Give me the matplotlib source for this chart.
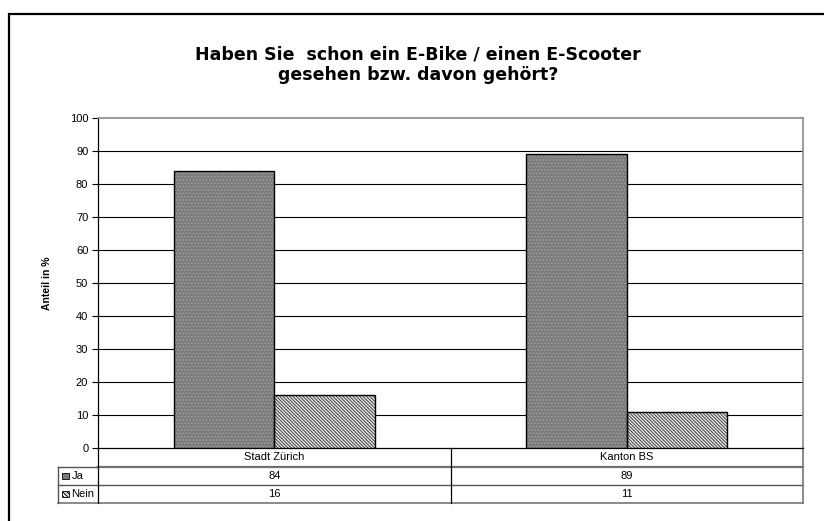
import matplotlib
matplotlib.use("Agg")
import matplotlib.pyplot as plt
from matplotlib.patches import Rectangle

# Survey: seen / heard of e-bike or e-scooter
categories = ["Stadt Zürich", "Kanton BS"]
series_names = ["Ja", "Nein"]
ja_values = [84, 89]
nein_values = [16, 11]
y_ticks = [0, 10, 20, 30, 40, 50, 60, 70, 80, 90, 100]

plt.rcParams['font.family'] = ['Liberation Sans', 'DejaVu Sans']
plt.rcParams['hatch.linewidth'] = 0.7

fig = plt.figure(figsize=(8.24, 5.21), dpi=100)
ax = fig.add_axes([98 / 824, 1 - 448 / 521, 705 / 824, 330 / 521])

x = list(range(len(categories)))
w = 1 / 3.5
x_ja = [i - w / 2 for i in x]
x_nein = [i + w / 2 for i in x]

nein_hatch = '\\' * 10

# Ja: grey with dotted texture
ax.bar(x_ja, ja_values, width=w, color='#7c7c7c', edgecolor='#a0a0a0',
       hatch='.....', linewidth=0, zorder=3)
ax.bar(x_ja, ja_values, width=w, fill=False, edgecolor='black', linewidth=1.0, zorder=4)
# Nein: fine diagonal hatch
ax.bar(x_nein, nein_values, width=w, color='#e8e8e8', edgecolor='#404040',
       hatch=nein_hatch, linewidth=0, zorder=3)
ax.bar(x_nein, nein_values, width=w, fill=False, edgecolor='black', linewidth=1.0, zorder=4)

ax.set_xlim(-0.5, len(categories) - 0.5)
ax.set_ylim(0, 100)
ax.set_yticks(y_ticks)
ax.set_xticks([])
ax.tick_params(axis='y', direction='out', length=4, width=0.8, labelsize=8, pad=3)
for t in y_ticks[1:-1]:
    ax.axhline(t, color='black', linewidth=0.8, zorder=1)

ax.spines['left'].set_color('black')
ax.spines['left'].set_linewidth(0.9)
ax.spines['top'].set_color('#8a8a8a')
ax.spines['right'].set_color('#8a8a8a')
ax.spines['top'].set_linewidth(1.2)
ax.spines['right'].set_linewidth(1.2)
ax.spines['bottom'].set_color('black')
ax.spines['bottom'].set_linewidth(0.9)

ax.set_ylabel("Anteil in %", fontsize=7.5, fontweight='bold', labelpad=13)

# data table below the axis
tr = ax.get_xaxis_transform()
row_y = [0, -19 / 330, -37 / 330, -55 / 330]
left_x = -0.5 - (40 / 705) * 2
ax.plot([-0.5, 1.5], [row_y[1]] * 2, transform=tr, color='#707070', lw=1.6, clip_on=False)
ax.plot([left_x, 1.5], [row_y[2]] * 2, transform=tr, color='#555555', lw=1.0, clip_on=False)
ax.plot([left_x, 1.5], [row_y[3]] * 2, transform=tr, color='#777777', lw=1.2, clip_on=False)
ax.plot([left_x, -0.5], [row_y[1]] * 2, transform=tr, color='#555555', lw=1.0, clip_on=False)
ax.plot([left_x, left_x], [row_y[1], row_y[3]], transform=tr, color='#555555', lw=1.0, clip_on=False)
ax.plot([-0.5, -0.5], [0, row_y[3]], transform=tr, color='black', lw=0.9, clip_on=False)
ax.plot([0.5, 0.5], [0, row_y[3]], transform=tr, color='black', lw=0.9, clip_on=False)
ax.plot([1.5, 1.5], [0, row_y[3]], transform=tr, color='#777777', lw=1.2, clip_on=False)

for i, cat in enumerate(categories):
    ax.text(i, (row_y[0] + row_y[1]) / 2, cat, transform=tr, ha='center', va='center', fontsize=8)
    ax.text(i, (row_y[1] + row_y[2]) / 2, str(ja_values[i]), transform=tr, ha='center', va='center', fontsize=8)
    ax.text(i, (row_y[2] + row_y[3]) / 2, str(nein_values[i]), transform=tr, ha='center', va='center', fontsize=8)

# legend keys in the table rows
key_styles = [dict(facecolor='#7c7c7c', edgecolor='black', hatch=None),
              dict(facecolor='#e8e8e8', edgecolor='black', hatch='\\' * 8)]
for j, name in enumerate(series_names):
    yc = (row_y[j + 1] + row_y[j + 2]) / 2
    kx = left_x + 0.012
    ax.add_patch(Rectangle((kx, yc - 0.0095), 0.018, 0.019, transform=tr,
                           clip_on=False, linewidth=0.6, **key_styles[j]))
    ax.text(kx + 0.026, yc, name, transform=tr, ha='left', va='center', fontsize=8)

fig.text(0.507, 1 - 65 / 521, "Haben Sie  schon ein E-Bike / einen E-Scooter\ngesehen bzw. davon gehört?",
         ha='center', va='center', fontsize=12.5, fontweight='bold', linespacing=1.15,
         family='DejaVu Sans')

# outer chart frame
fig.add_artist(Rectangle((9 / 824, -0.1), 1.2, 1 - 14 / 521 + 0.1, transform=fig.transFigure,
                         fill=False, edgecolor='black', linewidth=1.6, clip_on=False))

fig.savefig("out.png", dpi=100)
